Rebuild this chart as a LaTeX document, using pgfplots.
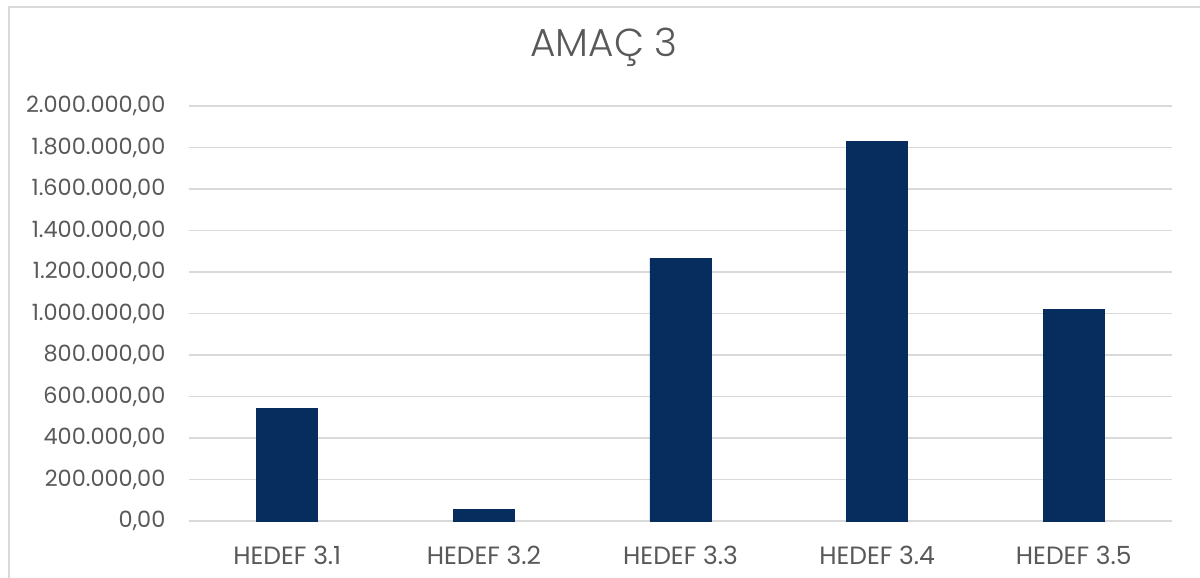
\documentclass[border=0pt]{standalone}
\usepackage{pgfplots}
\pgfplotsset{compat=1.18}
\usepackage{fontspec}
\setmainfont{Poppins}
\newfontfamily\titlefont{Poppins Light}
\definecolor{barblue}{RGB}{6,45,94}
\definecolor{gridgray}{RGB}{217,217,217}
\definecolor{txtgray}{RGB}{89,89,89}
\begin{document}
\begin{tikzpicture}
\path[use as bounding box] (-94.5pt,-28.5pt) rectangle (505.5pt,260.5pt);
\fill[white] (-94.5pt,-28.5pt) rectangle (505.5pt,260.5pt);
\draw[gridgray, line width=0.75pt] (-90pt,-40pt) -- (-90pt,257pt) -- (520pt,257pt);
\begin{axis}[
  at={(0pt,0pt)}, anchor=south west,
  scale only axis, width=491.5pt, height=207.5pt,
  xmin=-0.5, xmax=4.5, ymin=0, ymax=2000000,
  ybar, bar width=30.5pt,
  xtick={0,1,2,3,4},
  xticklabels={HEDEF 3.1,HEDEF 3.2,HEDEF 3.3,HEDEF 3.4,HEDEF 3.5},
  ytick={0,200000,400000,600000,800000,1000000,1200000,1400000,1600000,1800000,2000000},
  yticklabels={{0,00},{200.000,00},{400.000,00},{600.000,00},{800.000,00},{1.000.000,00},{1.200.000,00},{1.400.000,00},{1.600.000,00},{1.800.000,00},{2.000.000,00}},
  scaled y ticks=false,
  major tick length=0pt,
  axis line style={draw=none},
  ymajorgrids, grid style={gridgray, line width=0.75pt},
  yticklabel style={font=\fontsize{11.2}{13}\selectfont, text=txtgray, xshift=-8.3pt},
  xticklabel style={font=\fontsize{12.5}{14}\selectfont, text=txtgray, yshift=-8.8pt},
  clip=false,
]
\addplot[fill=barblue, draw=barblue] coordinates {(0,543000) (1,56000) (2,1266000) (3,1827000) (4,1018000)};
\end{axis}
\node[anchor=base, font=\titlefont\fontsize{19.5}{22}\selectfont, text=txtgray] at (207.5pt,232pt) {AMAÇ 3};
\end{tikzpicture}
\end{document}
